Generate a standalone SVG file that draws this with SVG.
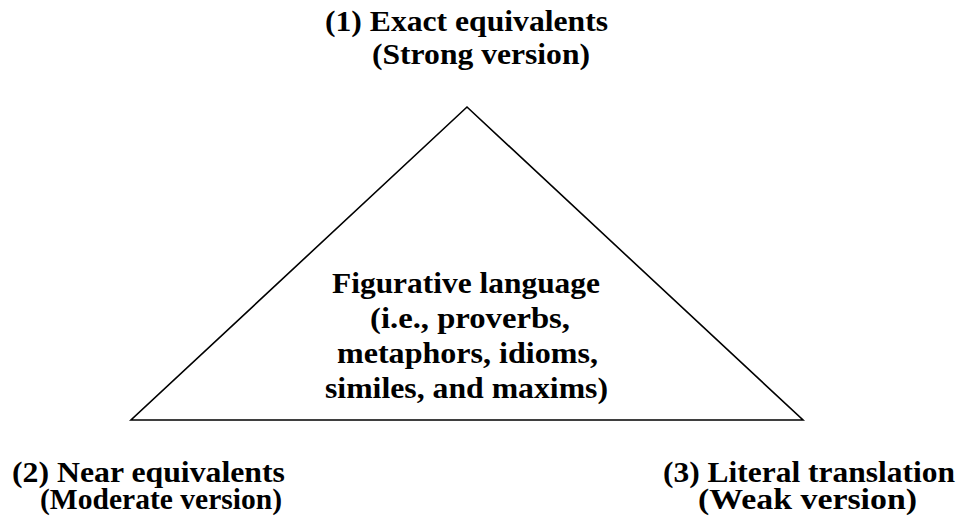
<svg xmlns="http://www.w3.org/2000/svg" width="970" height="525" viewBox="0 0 970 525">
<style>
text{font-family:'Liberation Serif','Times New Roman',serif;font-weight:700;font-size:29px;fill:#000}
.tri{fill:none;stroke:#000;stroke-width:1.6}
</style>
<rect width="970" height="525" fill="#fff"/>
<g id="connectors">
<polygon class="tri" points="467,107 131,420 803,420"/>
</g>
<g id="node-exact">
<text x="325" y="31" textLength="283" lengthAdjust="spacingAndGlyphs">(1) Exact equivalents</text>
<text x="372" y="64" textLength="218" lengthAdjust="spacingAndGlyphs">(Strong version)</text>
</g>
<g id="node-center">
<text x="332" y="293" textLength="268" lengthAdjust="spacingAndGlyphs">Figurative language</text>
<text x="370" y="328" textLength="200" lengthAdjust="spacingAndGlyphs">(i.e., proverbs,</text>
<text x="337" y="363" textLength="261" lengthAdjust="spacingAndGlyphs">metaphors, idioms,</text>
<text x="325" y="398" textLength="283" lengthAdjust="spacingAndGlyphs">similes, and maxims)</text>
</g>
<g id="node-near">
<text x="12" y="482" textLength="273" lengthAdjust="spacingAndGlyphs">(2) Near equivalents</text>
<text x="40" y="509" textLength="242" lengthAdjust="spacingAndGlyphs">(Moderate version)</text>
</g>
<g id="node-literal">
<text x="663" y="482" textLength="292" lengthAdjust="spacingAndGlyphs">(3) Literal translation</text>
<text x="698" y="509" textLength="219" lengthAdjust="spacingAndGlyphs">(Weak version)</text>
</g>
</svg>
